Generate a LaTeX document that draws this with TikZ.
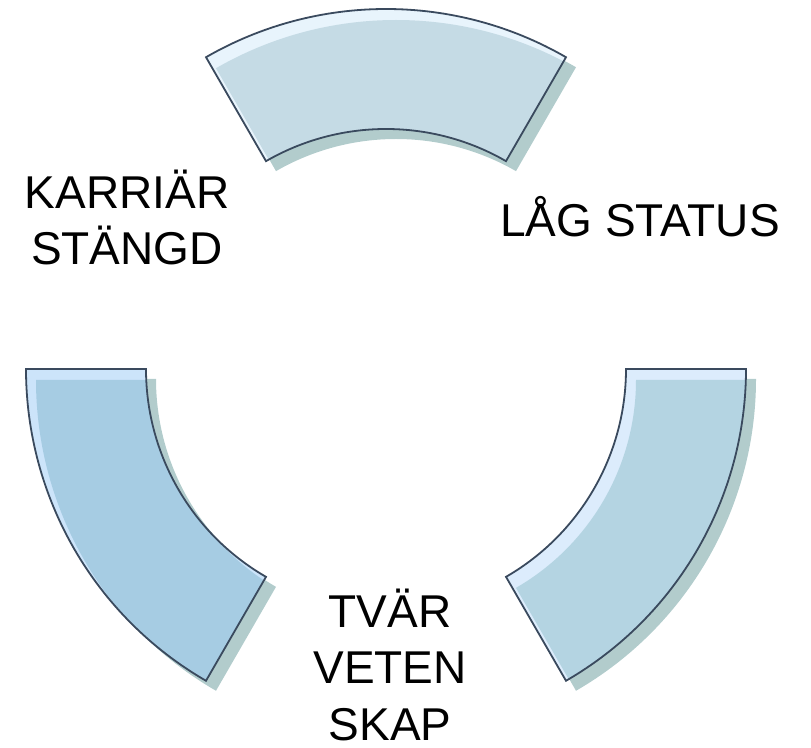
\documentclass[tikz,border=0pt]{standalone}
\usepackage{fontspec}
\setmainfont{Liberation Sans}
\definecolor{shadowc}{HTML}{B2CCCC}
\definecolor{edgec}{HTML}{3A4A5E}
\definecolor{topL}{HTML}{E8F4FC}
\definecolor{topM}{HTML}{C5DBE5}
\definecolor{leftL}{HTML}{CCE4FA}
\definecolor{leftM}{HTML}{A6CCE3}
\definecolor{rightL}{HTML}{DCECFC}
\definecolor{rightM}{HTML}{B4D4E2}
\tikzset{
  edgeline/.style={draw=edgec, line width=1.8pt, line join=miter},
  lbl/.style={font=\fontsize{46}{56.5}\selectfont, align=center, inner sep=0pt, text=black},
}
% #1 start angle, #2 end angle, #3 light colour, #4 main colour
\newcommand\blockarc[4]{%
  \fill[shadowc, shift={(10,-10)}] ([shift={(O)}]#1:360pt) arc[start angle=#1, end angle=#2, radius=360pt] -- ([shift={(O)}]#2:240pt) arc[start angle=#2, end angle=#1, radius=240pt] -- cycle;
  \begin{scope}
    \clip ([shift={(O)}]#1:360pt) arc[start angle=#1, end angle=#2, radius=360pt] -- ([shift={(O)}]#2:240pt) arc[start angle=#2, end angle=#1, radius=240pt] -- cycle;
    \fill[#3] ([shift={(O)}]#1:360pt) arc[start angle=#1, end angle=#2, radius=360pt] -- ([shift={(O)}]#2:240pt) arc[start angle=#2, end angle=#1, radius=240pt] -- cycle;
    \fill[#4, shift={(10,-11)}] ([shift={(O)}]#1:360pt) arc[start angle=#1, end angle=#2, radius=360pt] -- ([shift={(O)}]#2:240pt) arc[start angle=#2, end angle=#1, radius=240pt] -- cycle;
  \end{scope}
  \draw[edgeline] ([shift={(O)}]#1:360pt) arc[start angle=#1, end angle=#2, radius=360pt] -- ([shift={(O)}]#2:240pt) arc[start angle=#2, end angle=#1, radius=240pt] -- cycle;
}
\begin{document}
\begin{tikzpicture}[x=1pt,y=1pt]
\useasboundingbox (0,0) rectangle (811,747);
\coordinate (O) at (386,378);
\blockarc{60}{120}{topL}{topM}
\blockarc{180}{240}{leftL}{leftM}
\blockarc{300}{360}{rightL}{rightM}
\node[lbl, anchor=base] (kar) at (127,482) {KARRIÄR\\STÄNGD};
\node[lbl, anchor=base] (lag) at (640,510) {LÅG STATUS};
\node[lbl, anchor=base] (tvar) at (390,7) {TVÄR\\VETEN\\SKAP};
\end{tikzpicture}
\end{document}
